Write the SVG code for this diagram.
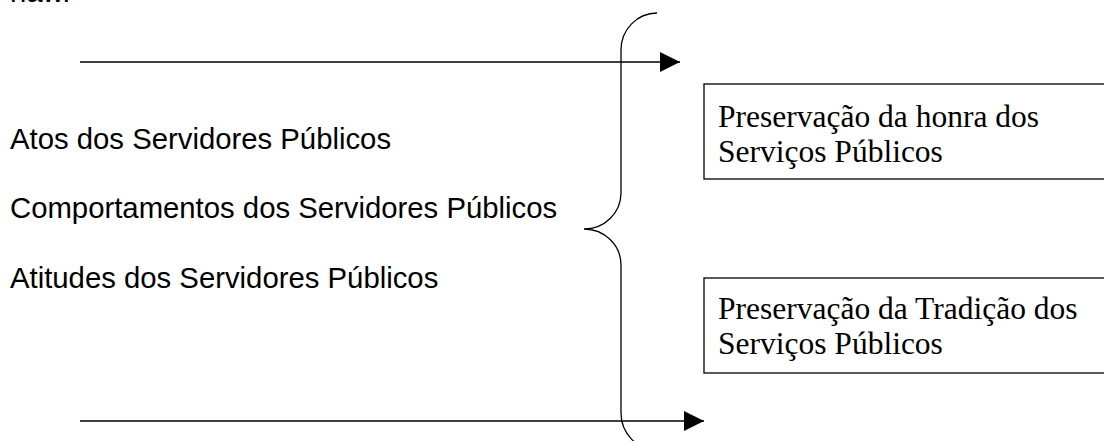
<svg xmlns="http://www.w3.org/2000/svg" width="1104" height="441" viewBox="0 0 1104 441">
<style>
.sans{font-family:"Liberation Sans",Arial,sans-serif;font-size:29.3px;fill:#000}
.serif{font-family:"Liberation Serif","Times New Roman",serif;font-size:31.5px;fill:#000}
.box{fill:#fff;stroke:#000;stroke-width:1.3}
.ln{stroke:#000;stroke-width:1.3;fill:none}
</style>
<defs>
<marker id="ah" markerWidth="20" markerHeight="20" refX="20" refY="10" orient="auto" markerUnits="userSpaceOnUse">
<path d="M0,0 L20,10 L0,20 Z" fill="#000"/>
</marker>
</defs>
<rect width="1104" height="441" fill="#fff"/>
<text class="sans" x="10" y="1.5">naw.</text>
<g id="labels">
<text class="sans" x="10" y="149">Atos dos Servidores Públicos</text>
<text class="sans" x="10" y="218">Comportamentos dos Servidores Públicos</text>
<text class="sans" x="10" y="288">Atitudes dos Servidores Públicos</text>
</g>
<g id="brace">
<path class="ln" d="M657,13 A36,37 0 0 0 621,50 L621,193 A37,36 0 0 1 584,229 A37,36 0 0 1 621,265 L621,413 A36,37 0 0 0 657,450"/>
</g>
<g id="box1">
<rect class="box" x="704" y="84" width="420" height="95"/>
<text class="serif" x="718" y="127">Preservação da honra dos</text>
<text class="serif" x="718" y="162">Serviços Públicos</text>
</g>
<g id="box2">
<rect class="box" x="704" y="278" width="420" height="95"/>
<text class="serif" x="718" y="319">Preservação da Tradição dos</text>
<text class="serif" x="718" y="354">Serviços Públicos</text>
</g>
<g id="connectors">
<line class="ln" x1="80" y1="62" x2="680" y2="62" marker-end="url(#ah)"/>
<line class="ln" x1="80" y1="421" x2="704" y2="421" marker-end="url(#ah)"/>
</g>
</svg>
